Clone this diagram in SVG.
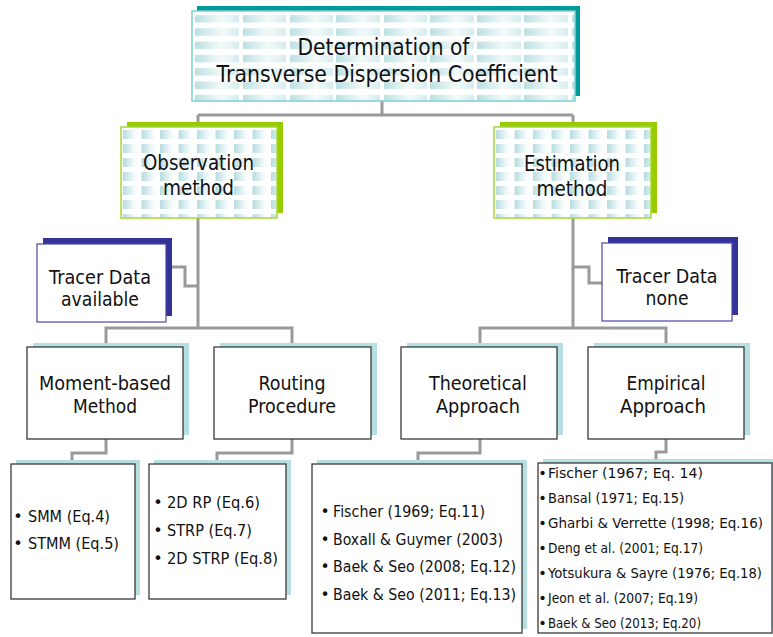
<svg xmlns="http://www.w3.org/2000/svg" width="773" height="637" viewBox="0 0 773 637">
<style>
.t{font-family:"DejaVu Sans","Liberation Sans",sans-serif;fill:#111;text-anchor:middle}
.l{font-family:"DejaVu Sans","Liberation Sans",sans-serif;fill:#111}
.b{font-family:"DejaVu Sans","Liberation Sans",sans-serif;fill:#111;text-anchor:middle}
.conn{fill:none;stroke:#9a9a9a;stroke-width:3}
.box{fill:#fff;stroke:#3a3a3a;stroke-width:1.3}
.sh{fill:#b5dfe2}
</style>
<defs>
<linearGradient id="cellg" x1="0" y1="0" x2="1" y2="0">
<stop offset="0" stop-color="#bcdfe2"/>
<stop offset="0.6" stop-color="#f3fafa"/>
<stop offset="1" stop-color="#d6ecee"/>
</linearGradient>
<linearGradient id="cellg2" x1="0" y1="0" x2="1" y2="0">
<stop offset="0" stop-color="#b6dce0"/>
<stop offset="0.7" stop-color="#f4fafb"/>
<stop offset="1" stop-color="#ffffff"/>
</linearGradient>
<pattern id="texT" patternUnits="userSpaceOnUse" x="195" y="11" width="47" height="13.3">
<rect width="47" height="13.3" fill="#fff"/>
<rect x="0" y="4" width="44" height="7.5" fill="url(#cellg)"/>
</pattern>
<pattern id="texG" patternUnits="userSpaceOnUse" x="123" y="127" width="18.5" height="14">
<rect width="18.5" height="14" fill="#fff"/>
<rect x="0" y="3" width="16" height="9" fill="url(#cellg2)"/>
</pattern>
<pattern id="texG2" patternUnits="userSpaceOnUse" x="496" y="127" width="18.5" height="14">
<rect width="18.5" height="14" fill="#fff"/>
<rect x="0" y="3" width="16" height="9" fill="url(#cellg2)"/>
</pattern>
</defs>

<g id="connectors">
<path class="conn" d="M382,101 V115 M198,115 H573 M198,115 V328 M573,115 V328"/>
<path class="conn" d="M166,267 H185 V286 H198"/>
<path class="conn" d="M573,267 H589 V283 H602"/>
<path class="conn" d="M106,347 V328 H292 V347"/>
<path class="conn" d="M480,347 V328 H666 V347"/>
<path class="conn" d="M106,439 V453 H72 V464"/>
<path class="conn" d="M292,439 V453 H217 V464"/>
<path class="conn" d="M480,439 V453 H418 V464"/>
<path class="conn" d="M666,439 V452 H656 V463"/>
</g>

<g id="title">
<rect x="197" y="6" width="383" height="90" fill="#009a9a"/>
<rect x="192" y="11" width="383" height="90" fill="url(#texT)" stroke="#7fcfcf" stroke-width="1.5"/>
<text class="t" x="383.5" y="55" font-size="23" textLength="172" lengthAdjust="spacingAndGlyphs">Determination of</text>
<text class="t" x="387" y="82" font-size="23" textLength="341" lengthAdjust="spacingAndGlyphs">Transverse Dispersion Coefficient</text>
</g>

<g id="observation">
<rect x="127" y="122" width="156" height="91" fill="#99cc00"/>
<rect x="121" y="127" width="156" height="91" fill="url(#texG)" stroke="#a6d63a" stroke-width="1.5"/>
<text class="t" x="198.5" y="170" font-size="21" textLength="111" lengthAdjust="spacingAndGlyphs">Observation</text>
<text class="t" x="198.5" y="195" font-size="21" textLength="71" lengthAdjust="spacingAndGlyphs">method</text>
</g>

<g id="estimation">
<rect x="500" y="122" width="157" height="91" fill="#99cc00"/>
<rect x="494" y="127" width="157" height="91" fill="url(#texG2)" stroke="#a6d63a" stroke-width="1.5"/>
<text class="t" x="572" y="171" font-size="21" textLength="96" lengthAdjust="spacingAndGlyphs">Estimation</text>
<text class="t" x="572" y="196" font-size="21" textLength="71" lengthAdjust="spacingAndGlyphs">method</text>
</g>

<g id="tracer-available">
<rect x="43" y="238" width="129" height="78" fill="#333399"/>
<rect x="37" y="244" width="129" height="78" fill="#fff" stroke="#4646aa" stroke-width="1.2"/>
<text class="t" x="100" y="284" font-size="20" textLength="102" lengthAdjust="spacingAndGlyphs">Tracer Data</text>
<text class="t" x="100" y="306" font-size="20" textLength="78" lengthAdjust="spacingAndGlyphs">available</text>
</g>

<g id="tracer-none">
<rect x="608" y="237" width="130" height="78" fill="#333399"/>
<rect x="602" y="243" width="130" height="78" fill="#fff" stroke="#4646aa" stroke-width="1.2"/>
<text class="t" x="667" y="283" font-size="20" textLength="101" lengthAdjust="spacingAndGlyphs">Tracer Data</text>
<text class="t" x="667" y="305" font-size="20" textLength="43" lengthAdjust="spacingAndGlyphs">none</text>
</g>

<g id="moment">
<rect class="sh" x="33" y="343" width="156" height="92"/>
<rect class="box" x="27" y="347" width="156" height="92"/>
<text class="t" x="105" y="390" font-size="20" textLength="132" lengthAdjust="spacingAndGlyphs">Moment-based</text>
<text class="t" x="105" y="413" font-size="20" textLength="64" lengthAdjust="spacingAndGlyphs">Method</text>
</g>

<g id="routing">
<rect class="sh" x="220" y="343" width="157" height="92"/>
<rect class="box" x="214" y="347" width="157" height="92"/>
<text class="t" x="292" y="390" font-size="20" textLength="67" lengthAdjust="spacingAndGlyphs">Routing</text>
<text class="t" x="292" y="413" font-size="20" textLength="88" lengthAdjust="spacingAndGlyphs">Procedure</text>
</g>

<g id="theoretical">
<rect class="sh" x="407" y="343" width="156" height="92"/>
<rect class="box" x="401" y="347" width="156" height="92"/>
<text class="t" x="478" y="390" font-size="20" textLength="98" lengthAdjust="spacingAndGlyphs">Theoretical</text>
<text class="t" x="478" y="413" font-size="20" textLength="84" lengthAdjust="spacingAndGlyphs">Approach</text>
</g>

<g id="empirical">
<rect class="sh" x="594" y="343" width="156" height="92"/>
<rect class="box" x="588" y="347" width="156" height="92"/>
<text class="t" x="666" y="390" font-size="20" textLength="79" lengthAdjust="spacingAndGlyphs">Empirical</text>
<text class="t" x="663" y="413" font-size="20" textLength="86" lengthAdjust="spacingAndGlyphs">Approach</text>
</g>

<g id="moment-list">
<rect class="sh" x="16" y="460" width="124" height="135"/>
<rect class="box" x="11" y="464" width="124" height="135"/>
<text class="b" x="18" y="522" font-size="16">•</text>
<text class="l" x="28" y="522" font-size="16" textLength="82" lengthAdjust="spacingAndGlyphs">SMM (Eq.4)</text>
<text class="b" x="18" y="549" font-size="16">•</text>
<text class="l" x="28" y="549" font-size="16" textLength="91" lengthAdjust="spacingAndGlyphs">STMM (Eq.5)</text>
</g>

<g id="routing-list">
<rect class="sh" x="154" y="460" width="137" height="135"/>
<rect class="box" x="149" y="464" width="137" height="135"/>
<text class="b" x="158" y="508" font-size="16">•</text>
<text class="l" x="167" y="508" font-size="16" textLength="93" lengthAdjust="spacingAndGlyphs">2D RP (Eq.6)</text>
<text class="b" x="158" y="536" font-size="16">•</text>
<text class="l" x="167" y="536" font-size="16" textLength="85" lengthAdjust="spacingAndGlyphs">STRP (Eq.7)</text>
<text class="b" x="158" y="564" font-size="16">•</text>
<text class="l" x="167" y="564" font-size="16" textLength="111" lengthAdjust="spacingAndGlyphs">2D STRP (Eq.8)</text>
</g>

<g id="theoretical-list">
<rect class="sh" x="317" y="460" width="210" height="169"/>
<rect class="box" x="312" y="464" width="210" height="169"/>
<text class="b" x="325" y="517" font-size="15.5">•</text>
<text class="l" x="333" y="517" font-size="15.5" textLength="152" lengthAdjust="spacingAndGlyphs">Fischer (1969; Eq.11)</text>
<text class="b" x="325" y="545" font-size="15.5">•</text>
<text class="l" x="333" y="545" font-size="15.5" textLength="170" lengthAdjust="spacingAndGlyphs">Boxall &amp; Guymer (2003)</text>
<text class="b" x="325" y="572" font-size="15.5">•</text>
<text class="l" x="333" y="572" font-size="15.5" textLength="183" lengthAdjust="spacingAndGlyphs">Baek &amp; Seo (2008; Eq.12)</text>
<text class="b" x="325" y="600" font-size="15.5">•</text>
<text class="l" x="333" y="600" font-size="15.5" textLength="183" lengthAdjust="spacingAndGlyphs">Baek &amp; Seo (2011; Eq.13)</text>
</g>

<g id="empirical-list">
<rect class="sh" x="543" y="459" width="230" height="170"/>
<rect class="box" x="538" y="463" width="234" height="170"/>
<text class="b" x="542.5" y="478" font-size="14.5">•</text>
<text class="l" x="548" y="478" font-size="14.5" textLength="155" lengthAdjust="spacingAndGlyphs">Fischer (1967; Eq. 14)</text>
<text class="b" x="542.5" y="503" font-size="14.5">•</text>
<text class="l" x="548" y="503" font-size="14.5" textLength="136" lengthAdjust="spacingAndGlyphs">Bansal (1971; Eq.15)</text>
<text class="b" x="542.5" y="528" font-size="14.5">•</text>
<text class="l" x="548" y="528" font-size="14" textLength="215" lengthAdjust="spacingAndGlyphs">Gharbi &amp; Verrette (1998; Eq.16)</text>
<text class="b" x="542.5" y="553" font-size="14.5">•</text>
<text class="l" x="548" y="553" font-size="14.5" textLength="155" lengthAdjust="spacingAndGlyphs">Deng et al. (2001; Eq.17)</text>
<text class="b" x="542.5" y="578" font-size="14.5">•</text>
<text class="l" x="548" y="578" font-size="13.5" textLength="214" lengthAdjust="spacingAndGlyphs">Yotsukura &amp; Sayre (1976; Eq.18)</text>
<text class="b" x="542.5" y="603" font-size="14.5">•</text>
<text class="l" x="548" y="603" font-size="14.5" textLength="150" lengthAdjust="spacingAndGlyphs">Jeon et al. (2007; Eq.19)</text>
<text class="b" x="542.5" y="628" font-size="14.5">•</text>
<text class="l" x="548" y="628" font-size="14.5" textLength="153" lengthAdjust="spacingAndGlyphs">Baek &amp; Seo (2013; Eq.20)</text>
</g>
</svg>
